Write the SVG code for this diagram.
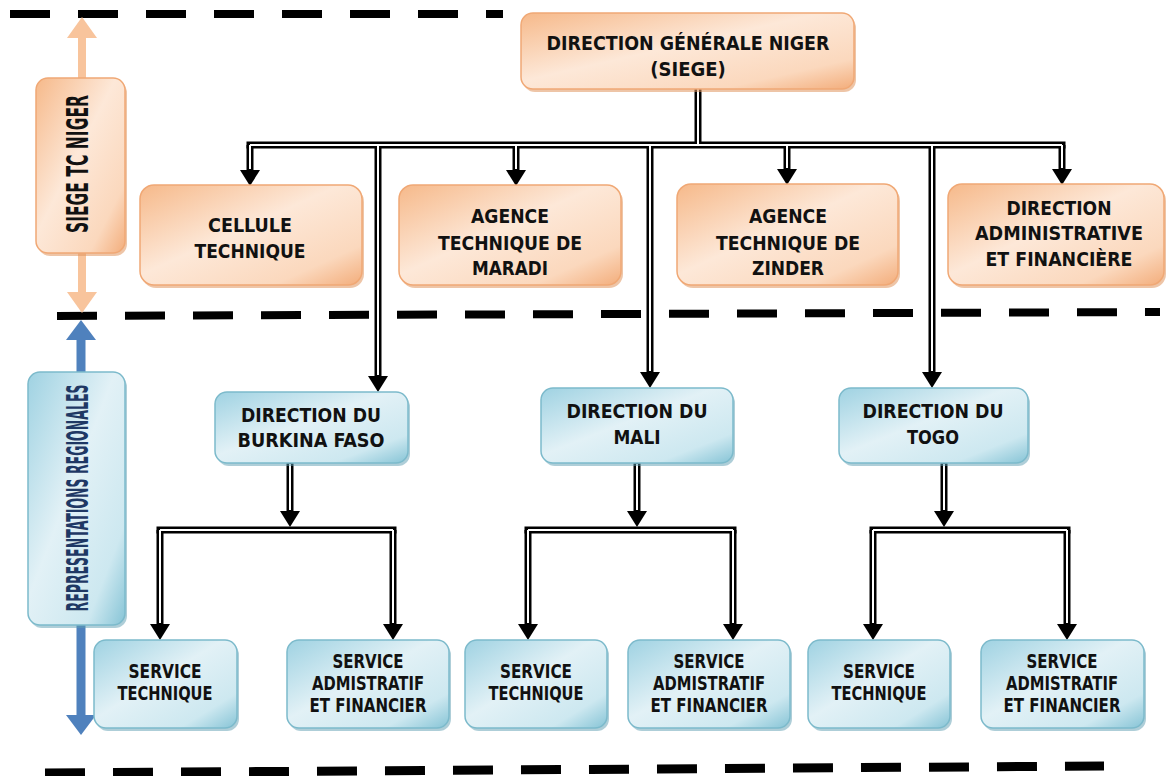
<svg xmlns="http://www.w3.org/2000/svg" width="1168" height="776" viewBox="0 0 1168 776">
<defs>
<linearGradient id="og" x1="0" y1="0" x2="1" y2="1">
<stop offset="0" stop-color="#f6b98a"/>
<stop offset="0.45" stop-color="#fde8d8"/>
<stop offset="0.8" stop-color="#fbd8bd"/>
<stop offset="1" stop-color="#f3ad7b"/>
</linearGradient>
<linearGradient id="bg" x1="0" y1="0" x2="1" y2="1">
<stop offset="0" stop-color="#9fd2e2"/>
<stop offset="0.45" stop-color="#e2f1f6"/>
<stop offset="0.8" stop-color="#cde8f0"/>
<stop offset="1" stop-color="#86c4d6"/>
</linearGradient>
<marker id="ah" markerUnits="userSpaceOnUse" markerWidth="16" markerHeight="20" viewBox="0 0 16 20" refX="0" refY="10" orient="auto">
<path d="M0,0 L16,10 L0,20 z" fill="#000"/>
</marker>
</defs>
<style>
.ob{fill:url(#og);stroke:#f0a875;stroke-width:1.5}
.os{fill:#e0955f;opacity:.55}
.bb{fill:url(#bg);stroke:#7cbacb;stroke-width:1.5}
.bs{fill:#5e9db1;opacity:.5}
.t{font-family:"DejaVu Sans Condensed","DejaVu Sans","Liberation Sans Narrow",sans-serif;font-weight:bold;font-size:20px;fill:#111;text-anchor:middle}
.s{font-size:19px}
.k{fill:none;stroke:#000;stroke-width:7;stroke-linecap:butt}
.kb{fill:none;stroke:#000;stroke-width:7;stroke-linecap:square}
.w{fill:none;stroke:#fff;stroke-width:2}
.dash{stroke:#000;stroke-width:8;stroke-dasharray:40 28;fill:none}
</style>
<rect width="1168" height="776" fill="#fff"/>

<g id="separators">
<line class="dash" x1="10" y1="14" x2="503" y2="14"/>
<line class="dash" x1="57" y1="316" x2="1160" y2="312"/>
<line class="dash" x1="45" y1="773" x2="1104" y2="766" style="stroke-width:9"/>
</g>

<g id="side-arrows">
<rect x="78" y="35" width="8" height="260" fill="#f8c49c"/>
<polygon points="82,17 67,38 97,38" fill="#f8c49c"/>
<polygon points="82,313 67,292 97,292" fill="#f8c49c"/>
<rect x="76.5" y="337" width="9" height="380" fill="#4f81bd"/>
<polygon points="81,320 66,340 96,340" fill="#4f81bd"/>
<polygon points="81,735 66,715 96,715" fill="#4f81bd"/>
</g>

<g id="siege-label">
<rect class="os" x="38" y="81" width="89" height="175" rx="12"/>
<rect class="ob" x="36" y="78" width="89" height="175" rx="12"/>
<text class="t" transform="translate(88,164) rotate(-90)" style="font-size:30px" textLength="138" lengthAdjust="spacingAndGlyphs">SIEGE TC NIGER</text>
</g>

<g id="regions-label">
<rect class="bs" x="30" y="375" width="97" height="253" rx="12"/>
<rect class="bb" x="28" y="372" width="97" height="253" rx="12"/>
<text class="t" transform="translate(88,498) rotate(-90)" style="font-size:30px;fill:#1f3864" textLength="227" lengthAdjust="spacingAndGlyphs">REPRESENTATIONS REGIONALES</text>
</g>

<g id="connectors">
<path class="k" d="M698,89 V145"/>
<path class="kb" d="M250,145 H1062"/>
<path class="k" d="M250,145 V170" marker-end="url(#ah)"/>
<path class="k" d="M516,145 V170" marker-end="url(#ah)"/>
<path class="k" d="M787,145 V169" marker-end="url(#ah)"/>
<path class="k" d="M1062,145 V169" marker-end="url(#ah)"/>
<path class="k" d="M378,145 V376" marker-end="url(#ah)"/>
<path class="k" d="M650,145 V372" marker-end="url(#ah)"/>
<path class="k" d="M932,145 V372" marker-end="url(#ah)"/>
<path class="k" d="M290,463 V511" marker-end="url(#ah)"/>
<path class="kb" d="M160,530 H393"/>
<path class="k" d="M160,530 V624" marker-end="url(#ah)"/>
<path class="k" d="M393,530 V624" marker-end="url(#ah)"/>
<path class="k" d="M637,463 V511" marker-end="url(#ah)"/>
<path class="kb" d="M528,530 H733"/>
<path class="k" d="M528,530 V624" marker-end="url(#ah)"/>
<path class="k" d="M733,530 V624" marker-end="url(#ah)"/>
<path class="k" d="M944,463 V511" marker-end="url(#ah)"/>
<path class="kb" d="M873,530 H1067"/>
<path class="k" d="M873,530 V624" marker-end="url(#ah)"/>
<path class="k" d="M1067,530 V624" marker-end="url(#ah)"/>
<path class="w" d="M698,89 V145"/>
<path class="w" d="M250,145 H1062"/>
<path class="w" d="M250,145 V169"/>
<path class="w" d="M516,145 V169"/>
<path class="w" d="M787,145 V168"/>
<path class="w" d="M1062,145 V168"/>
<path class="w" d="M378,145 V375"/>
<path class="w" d="M650,145 V371"/>
<path class="w" d="M932,145 V371"/>
<path class="w" d="M290,464 V510"/>
<path class="w" d="M160,530 H393"/>
<path class="w" d="M160,530 V623"/>
<path class="w" d="M393,530 V623"/>
<path class="w" d="M637,464 V510"/>
<path class="w" d="M528,530 H733"/>
<path class="w" d="M528,530 V623"/>
<path class="w" d="M733,530 V623"/>
<path class="w" d="M944,464 V510"/>
<path class="w" d="M873,530 H1067"/>
<path class="w" d="M873,530 V623"/>
<path class="w" d="M1067,530 V623"/>
</g>

<g id="direction-generale">
<rect class="os" x="523" y="16" width="333" height="76" rx="12"/>
<rect class="ob" x="521" y="13" width="333" height="76" rx="12"/>
<text class="t" x="688" y="50" textLength="283" lengthAdjust="spacingAndGlyphs">DIRECTION GÉNÉRALE NIGER</text>
<text class="t" x="688" y="76">(SIEGE)</text>
</g>

<g id="cellule-technique">
<rect class="os" x="142" y="188" width="222" height="100" rx="14"/>
<rect class="ob" x="140" y="185" width="222" height="100" rx="14"/>
<text class="t" x="250" y="232" textLength="84" lengthAdjust="spacingAndGlyphs">CELLULE</text>
<text class="t" x="250" y="258" textLength="111" lengthAdjust="spacingAndGlyphs">TECHNIQUE</text>
</g>

<g id="agence-maradi">
<rect class="os" x="401" y="188" width="222" height="100" rx="14"/>
<rect class="ob" x="399" y="185" width="222" height="100" rx="14"/>
<text class="t" x="510" y="223" textLength="78" lengthAdjust="spacingAndGlyphs">AGENCE</text>
<text class="t" x="510" y="250" textLength="144" lengthAdjust="spacingAndGlyphs">TECHNIQUE DE</text>
<text class="t" x="510" y="275" textLength="76" lengthAdjust="spacingAndGlyphs">MARADI</text>
</g>

<g id="agence-zinder">
<rect class="os" x="679" y="187" width="221" height="101" rx="14"/>
<rect class="ob" x="677" y="184" width="221" height="101" rx="14"/>
<text class="t" x="788" y="223" textLength="78" lengthAdjust="spacingAndGlyphs">AGENCE</text>
<text class="t" x="788" y="250" textLength="144" lengthAdjust="spacingAndGlyphs">TECHNIQUE DE</text>
<text class="t" x="788" y="275" textLength="72" lengthAdjust="spacingAndGlyphs">ZINDER</text>
</g>

<g id="direction-administrative">
<rect class="os" x="950" y="187" width="216" height="101" rx="14"/>
<rect class="ob" x="948" y="184" width="216" height="101" rx="14"/>
<text class="t" x="1059" y="215" textLength="105" lengthAdjust="spacingAndGlyphs">DIRECTION</text>
<text class="t" x="1059" y="240" textLength="168" lengthAdjust="spacingAndGlyphs">ADMINISTRATIVE</text>
<text class="t" x="1059" y="266" textLength="147" lengthAdjust="spacingAndGlyphs">ET FINANCIÈRE</text>
</g>

<g id="direction-burkina">
<rect class="bs" x="217" y="395" width="193" height="71" rx="12"/>
<rect class="bb" x="215" y="392" width="193" height="71" rx="12"/>
<text class="t" x="311" y="422" textLength="140" lengthAdjust="spacingAndGlyphs">DIRECTION DU</text>
<text class="t" x="311" y="447" textLength="147" lengthAdjust="spacingAndGlyphs">BURKINA FASO</text>
</g>

<g id="direction-mali">
<rect class="bs" x="543" y="391" width="192" height="75" rx="12"/>
<rect class="bb" x="541" y="388" width="192" height="75" rx="12"/>
<text class="t" x="637" y="418" textLength="141" lengthAdjust="spacingAndGlyphs">DIRECTION DU</text>
<text class="t" x="637" y="444" textLength="47" lengthAdjust="spacingAndGlyphs">MALI</text>
</g>

<g id="direction-togo">
<rect class="bs" x="841" y="391" width="189" height="75" rx="12"/>
<rect class="bb" x="839" y="388" width="189" height="75" rx="12"/>
<text class="t" x="933" y="418" textLength="141" lengthAdjust="spacingAndGlyphs">DIRECTION DU</text>
<text class="t" x="933" y="444" textLength="52" lengthAdjust="spacingAndGlyphs">TOGO</text>
</g>

<g id="burkina-service-technique">
<rect class="bs" x="96" y="643" width="143" height="88" rx="12"/>
<rect class="bb" x="94" y="640" width="143" height="88" rx="12"/>
<text class="t s" x="165" y="678" textLength="73" lengthAdjust="spacingAndGlyphs">SERVICE</text>
<text class="t s" x="165" y="700" textLength="95" lengthAdjust="spacingAndGlyphs">TECHNIQUE</text>
</g>

<g id="burkina-service-administratif">
<rect class="bs" x="289" y="643" width="162" height="88" rx="12"/>
<rect class="bb" x="287" y="640" width="162" height="88" rx="12"/>
<text class="t s" x="368" y="668" textLength="71" lengthAdjust="spacingAndGlyphs">SERVICE</text>
<text class="t s" x="368" y="690" textLength="112" lengthAdjust="spacingAndGlyphs">ADMISTRATIF</text>
<text class="t s" x="368" y="712" textLength="117" lengthAdjust="spacingAndGlyphs">ET FINANCIER</text>
</g>

<g id="mali-service-technique">
<rect class="bs" x="467" y="643" width="142" height="88" rx="12"/>
<rect class="bb" x="465" y="640" width="142" height="88" rx="12"/>
<text class="t s" x="536" y="678" textLength="72" lengthAdjust="spacingAndGlyphs">SERVICE</text>
<text class="t s" x="536" y="700" textLength="95" lengthAdjust="spacingAndGlyphs">TECHNIQUE</text>
</g>

<g id="mali-service-administratif">
<rect class="bs" x="630" y="643" width="162" height="88" rx="12"/>
<rect class="bb" x="628" y="640" width="162" height="88" rx="12"/>
<text class="t s" x="709" y="668" textLength="71" lengthAdjust="spacingAndGlyphs">SERVICE</text>
<text class="t s" x="709" y="690" textLength="112" lengthAdjust="spacingAndGlyphs">ADMISTRATIF</text>
<text class="t s" x="709" y="712" textLength="117" lengthAdjust="spacingAndGlyphs">ET FINANCIER</text>
</g>

<g id="togo-service-technique">
<rect class="bs" x="810" y="643" width="142" height="88" rx="12"/>
<rect class="bb" x="808" y="640" width="142" height="88" rx="12"/>
<text class="t s" x="879" y="678" textLength="72" lengthAdjust="spacingAndGlyphs">SERVICE</text>
<text class="t s" x="879" y="700" textLength="95" lengthAdjust="spacingAndGlyphs">TECHNIQUE</text>
</g>

<g id="togo-service-administratif">
<rect class="bs" x="983" y="643" width="163" height="88" rx="12"/>
<rect class="bb" x="981" y="640" width="163" height="88" rx="12"/>
<text class="t s" x="1062" y="668" textLength="71" lengthAdjust="spacingAndGlyphs">SERVICE</text>
<text class="t s" x="1062" y="690" textLength="112" lengthAdjust="spacingAndGlyphs">ADMISTRATIF</text>
<text class="t s" x="1062" y="712" textLength="117" lengthAdjust="spacingAndGlyphs">ET FINANCIER</text>
</g>
</svg>
